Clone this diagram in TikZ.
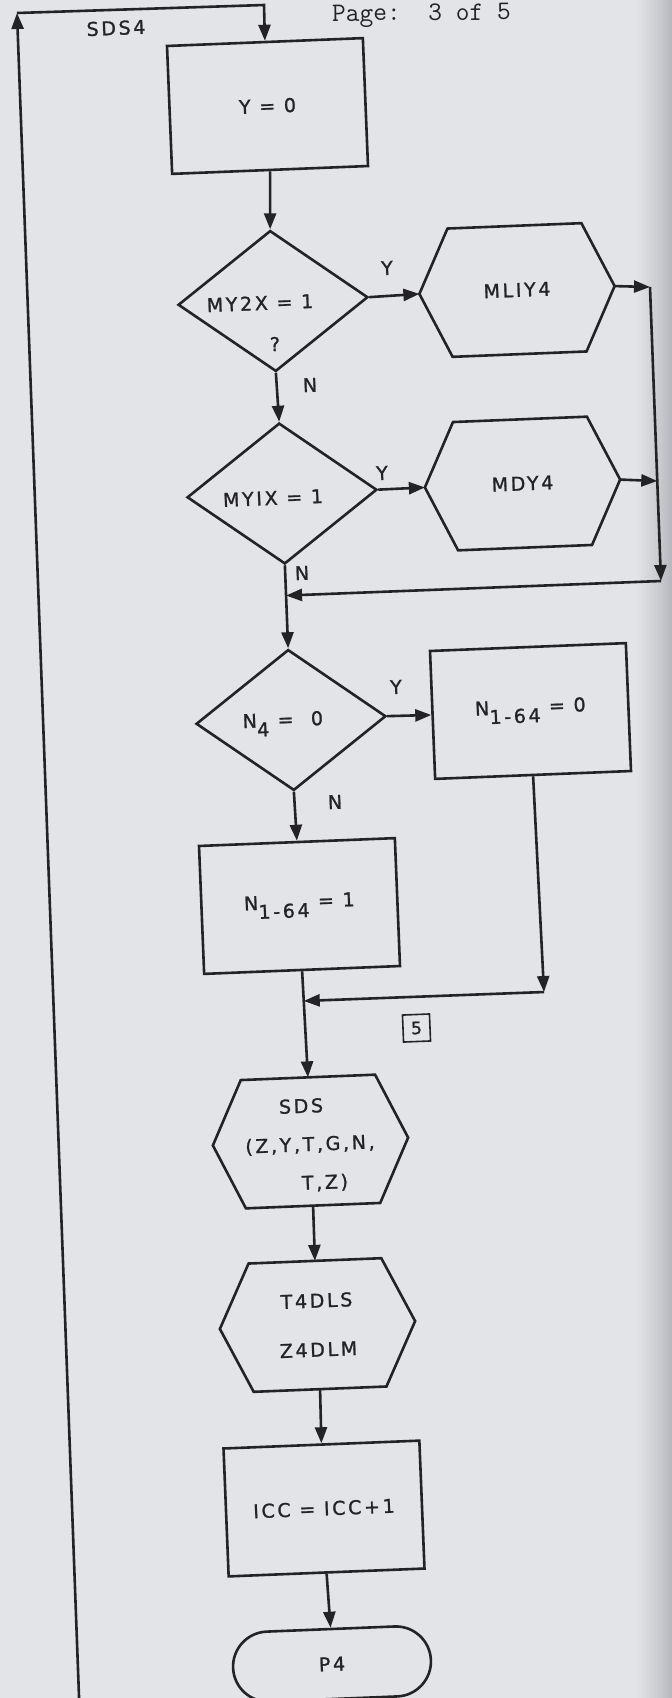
\documentclass[tikz,border=0pt]{standalone}
\usepackage{fontspec}
\newfontfamily\lett[LetterSpace=14,FakeBold=1.2]{DejaVu Sans}
\usetikzlibrary{arrows.meta,shapes.geometric,shapes.misc,calc}
\definecolor{bg}{RGB}{227,228,231}
\definecolor{ink}{RGB}{35,35,38}
\newcommand\hexpath[2]{%
  \draw[ln, line join=miter] (#1.west) -- ($(#1.north west)!#2!(#1.north east)$) -- ($(#1.north east)!#2!(#1.north west)$) -- (#1.east) -- ($(#1.south east)!#2!(#1.south west)$) -- ($(#1.south west)!#2!(#1.south east)$) -- cycle;}
\begin{document}
\begin{tikzpicture}[x=1pt,y=-1pt,
  ln/.style={draw=ink, line width=2.6pt},
  arr/.style={ln, -{Triangle[length=16pt,width=12pt]}},
  lab/.style={text=ink, inner sep=0pt, rotate=2.3, font=\lett\fontsize{19}{22}\selectfont},
  proc/.style={lab, ln, rectangle, minimum width=196pt, minimum height=128pt},
  hexbox/.style={lab, rectangle, minimum width=195pt, minimum height=128pt},
  dec/.style={ln, diamond, minimum width=190pt, minimum height=141pt, inner sep=0pt, rotate=2.3},
  term/.style={lab, ln, rounded rectangle, minimum width=198pt, minimum height=70pt}
]
\useasboundingbox (0,0) rectangle (672,1698);
\fill[bg] (0,0) rectangle (672,1698);
\shade[left color=bg, right color={rgb,255:red,200;green,201;blue,205}] (636,0) rectangle (660,1698);
\shade[left color={rgb,255:red,200;green,201;blue,205}, right color={rgb,255:red,182;green,183;blue,188}] (660,0) rectangle (672,1698);

% header
\node[text=ink, inner sep=0pt, anchor=west, rotate=0.5, font=\ttfamily\fontsize{26.7}{27}\selectfont] (page) at (332,16) {Page:~~3 of 5};
\node[lab] (sds4) at (116,28) {SDS4};

% nodes
\node[proc] (y0) at (267.5,106) {Y = 0};
\node[dec] (d1) at (273,301) {};
\node[lab] (d1t) at (260,303) {MY2X = 1};
\node[lab] (d1q) at (275,344) {?};
\node[hexbox] (h1) at (517,290) {MLIY4};
\node[dec] (d2) at (282,493.5) {};
\node[lab] (d2t) at (273,498) {MYIX = 1};
\node[hexbox] (h2) at (522.5,483.5) {MDY4};
\node[dec] (n4) at (291,720) {};
\node[lab] (n4t) at (283,724) {N\raisebox{-9pt}{4} =~~0};
\node[proc] (b0) at (530.5,711) {N\raisebox{-9pt}{1-64} = 0};
\node[proc] (b1) at (299.5,906) {N\raisebox{-9pt}{1-64} = 1};
\node[hexbox] (sds) at (310.5,1141.5) {};
\node[lab] (sdsa) at (301,1106) {SDS};
\node[lab] (sdsb) at (310,1145) {(Z,Y,T,G,N,};
\node[lab] (sdsc) at (325,1183) {T,Z)};
\node[hexbox, align=center, font=\lett\fontsize{19}{49}\selectfont] (t4) at (317.5,1325) {T4DLS\\Z4DLM};
\node[proc] (icc) at (324,1508.5) {ICC = ICC+1};
\node[term] (p4) at (332,1664) {P4};
\node[lab, draw=ink, line width=1.6pt, minimum size=27pt, font=\lett\fontsize{17}{20}\selectfont] (c5) at (416.5,1028) {5};

\hexpath{h1}{0.157}
\hexpath{h2}{0.157}
\hexpath{sds}{0.156}
\hexpath{t4}{0.16}

% branch labels
\node[lab] (y1) at (387,268) {Y};
\node[lab] (nn1) at (310,385) {N};
\node[lab] (y2) at (382,473) {Y};
\node[lab] (nn2) at (302,573) {N};
\node[lab] (y3) at (396,687) {Y};
\node[lab] (nn3) at (335,802) {N};

% coordinates
\coordinate (r1) at (650,287);
\coordinate (r2) at (657.3,481);
\coordinate (r3) at (661,581);
\coordinate (r4) at (544,992);
\coordinate (lb) at (79.5,1710);
\coordinate (ltl) at (17,13);
\coordinate (ltr) at (264,5);
\coordinate (j1) at ($(d2.south)!0.365!(n4.north)$);
\coordinate (j2) at ($(b1.south)!0.28!(sds.north)$);

% connectors
\draw[arr] (lb) -- (ltl);
\draw[arr] (ltl) -- (ltr) -- (y0.north);
\draw[arr] (y0.south) -- (d1.north);
\draw[arr] (d1.east) -- (h1.west);
\draw[arr] (d1.south) -- (d2.north);
\draw[arr] (d2.east) -- (h2.west);
\draw[arr] (h1.east) -- (r1);
\draw[arr] (h2.east) -- (r2);
\draw[arr] (r1) -- (r3);
\draw[arr] (r3) -- (j1);
\draw[arr] (d2.south) -- (n4.north);
\draw[arr] (n4.east) -- (b0.west);
\draw[arr] (n4.south) -- (b1.north);
\draw[arr] (b0.south) -- (r4);
\draw[arr] (r4) -- (j2);
\draw[arr] (b1.south) -- (sds.north);
\draw[arr] (sds.south) -- (t4.north);
\draw[arr] (t4.south) -- (icc.north);
\draw[arr] (icc.south) -- (p4.north);
\end{tikzpicture}
\end{document}
